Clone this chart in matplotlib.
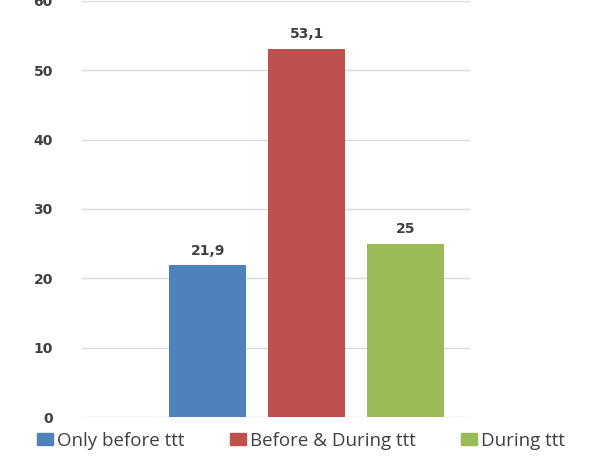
import matplotlib
matplotlib.use('Agg')
import matplotlib.pyplot as plt
from matplotlib.patches import Patch

# data
labels = ['Only before ttt', 'Before & During ttt', 'During ttt']
values = [21.9, 53.1, 25]
value_text = ['21,9', '53,1', '25']
colors = ['#4F81BD', '#C0504D', '#9BBB59']
yticks = [0, 10, 20, 30, 40, 50, 60]

fig = plt.figure(figsize=(5.96, 4.57), dpi=100)
ax = fig.add_axes([0.1376, 0.0875, 0.651, 0.9105])

x = range(len(values))
bars = ax.bar(x, values, width=0.78, color=colors, zorder=3)

# value labels above each bar
for b, t in zip(bars, value_text):
    ax.text(b.get_x() + b.get_width() / 2, b.get_height() + 1.1, t,
            ha='center', va='bottom', fontsize=10, color='#404040',
            family='DejaVu Sans', fontweight='bold')

ax.set_xlim(-1.27, 2.65)
ax.set_ylim(0, 60)
ax.set_yticks(yticks)
ax.set_yticklabels([str(v) for v in yticks], family='DejaVu Sans',
                   fontsize=10, color='#404040', fontweight='bold')
ax.tick_params(axis='y', length=0, pad=21)
ax.set_xticks([])
ax.grid(axis='y', color='#d9d9d9', linewidth=1, zorder=0)
for s in ax.spines.values():
    s.set_visible(False)

handles = [Patch(color=c) for c in colors]
fig.legend(handles, labels, loc='center', bbox_to_anchor=(0.505, 0.036),
           ncol=3, frameon=False, prop={'family': 'Open Sans', 'size': 13.5},
           handlelength=0.85, handleheight=0.6, handletextpad=0.2,
           columnspacing=2.45, labelcolor='#404040')

fig.savefig('out.png', dpi=100)
